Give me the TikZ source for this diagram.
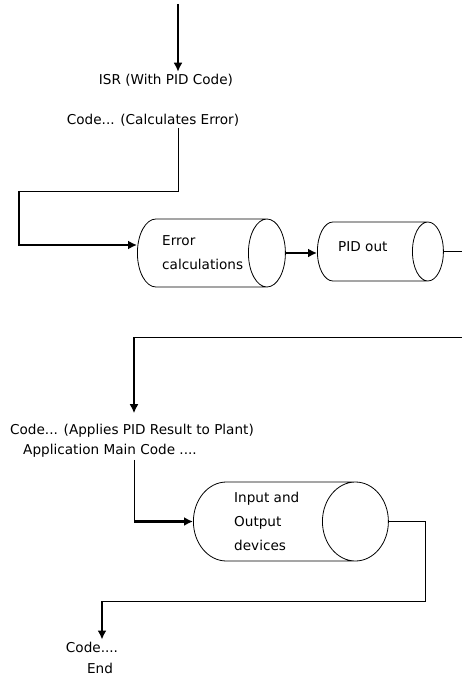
\documentclass[tikz,border=0pt]{standalone}
\usepackage{fontspec}
\setmainfont{DejaVu Sans}
\usetikzlibrary{shapes.geometric,arrows.meta}

\tikzset{
  drum/.style={draw,line width=0.8pt,cylinder,shape border rotate=0,anchor=west,inner xsep=0pt},
  drumtext/.style={align=left,inner sep=0pt,anchor=west},
  caption/.style={inner sep=2pt},
  fine/.style={line width=0.9pt},
  heavy/.style={line width=2.2pt,-{Latex[length=9pt,width=9pt]}},
}

\begin{document}
\begin{tikzpicture}[x=1pt,y=-1pt,font=\fontsize{13.6pt}{24pt}\selectfont]
  \useasboundingbox (0,0) rectangle (462,676);

  % ISR part
  \coordinate (start) at (178,4);
  \node[caption] (isr) at (166,80) {ISR (With PID Code)};
  \node[caption] (calc) at (153,120) {Code... (Calculates Error)};
  \coordinate (bend1) at (19,191);
  \draw[fine] (calc.south -| start) |- (bend1);
  \draw[heavy] (start) -- (isr.north -| start);

  % the two cylinders (minimum height = length, inner ysep = radius)
  \node[drum,minimum height=148pt,inner ysep=34pt,aspect=0.544] (err) at (137,253) {};
  \node[drumtext] (errtext) at (162,253) {Error\\calculations};
  \node[drum,minimum height=126pt,inner ysep=29.5pt,aspect=0.525] (pid) at (317,251.5) {};
  \node[drumtext] (pidtext) at (338,247) {PID out};
  \draw[heavy] (bend1) |- ([yshift=8pt]err.west);
  \draw[heavy] (err.east) -- (err.east -| pid.west);
  \coordinate (rim) at (462,337);
  \draw[fine] (pid.east) -- (pid.east -| rim);

  % back in the main code
  \coordinate (bend2) at (134,337);
  \node[caption] (applies) at (132,431) {Code... (Applies PID Result to Plant)};
  \node[caption] (appmain) at (110,451) {Application Main Code ....};
  \draw[fine] (rim) -- (bend2);
  \draw[heavy,shorten >=9pt] (bend2) -- (applies.north -| bend2);

  \node[drum,minimum height=195pt,inner ysep=39.5pt,aspect=0.835] (io) at (193,521.5) {};
  \node[drumtext] (iotext) at (234,521.5) {Input and\\Output\\devices};
  \coordinate (bend3) at (134,521.5);
  \draw[fine] (appmain.south -| bend3) -- (bend3);
  \draw[heavy] (bend3) -- (io.west);

  % end of the loop
  \coordinate (bend4) at (425,601);
  \coordinate (bend5) at (102,601);
  \node[caption] (codeend) at (92,647) {Code....};
  \node[caption] (fin) at (100,668) {End};
  \draw[fine] (io.east) -| (bend4) -- (bend5);
  \draw[heavy] (bend5) -- (codeend.north -| bend5);
\end{tikzpicture}
\end{document}
